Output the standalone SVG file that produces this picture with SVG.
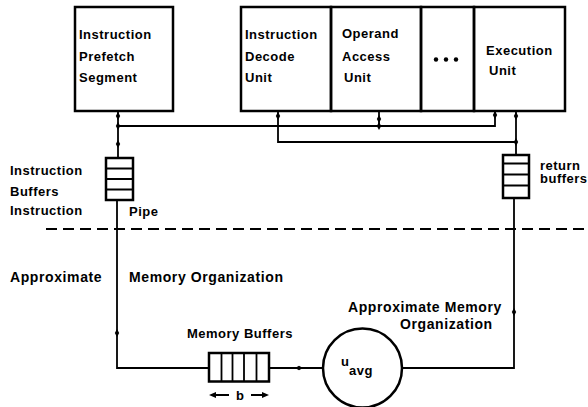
<svg xmlns="http://www.w3.org/2000/svg" width="588" height="407" viewBox="0 0 588 407">
<defs>
<style>
.box{fill:none;stroke:#000;stroke-width:2.5}
.ln{fill:none;stroke:#000;stroke-width:1.8}
.t{font-family:"Liberation Sans",Arial,sans-serif;font-weight:bold;font-size:13px;letter-spacing:0.5px;fill:#000}
.tl{font-family:"Liberation Sans",Arial,sans-serif;font-weight:bold;font-size:14px;letter-spacing:0.6px;fill:#000}
</style>
<path id="dv" d="M0,-4 L2.2,0 L0,4 L-2.2,0Z" fill="#000"/>
<path id="dh" d="M-4,0 L0,-2.2 L4,0 L0,2.2Z" fill="#000"/>
</defs>
<rect width="588" height="407" fill="#fff"/>

<g id="prefetch">
<rect class="box" x="75" y="7" width="98" height="104"/>
<text class="t" x="79" y="39">Instruction</text>
<text class="t" x="79" y="61">Prefetch</text>
<text class="t" x="79" y="82">Segment</text>
</g>

<g id="decode">
<rect class="box" x="241" y="7" width="90" height="104"/>
<text class="t" x="245" y="39">Instruction</text>
<text class="t" x="245" y="61">Decode</text>
<text class="t" x="245" y="82">Unit</text>
</g>

<g id="operand">
<rect class="box" x="331" y="7" width="90" height="104"/>
<text class="t" x="342" y="38" letter-spacing="0.8">Operand</text>
<text class="t" x="342" y="61" letter-spacing="0.8">Access</text>
<text class="t" x="344" y="82">Unit</text>
</g>

<g id="dots">
<rect class="box" x="421" y="7" width="53" height="104"/>
<circle cx="436" cy="59.5" r="2.2"/>
<circle cx="446" cy="59.5" r="2.2"/>
<circle cx="456" cy="59.5" r="2.2"/>
</g>

<g id="execution">
<rect class="box" x="474" y="7" width="91" height="104"/>
<text class="t" x="486" y="55">Execution</text>
<text class="t" x="489" y="75">Unit</text>
</g>

<g id="instruction-buffers">
<rect class="box" x="106" y="158" width="27" height="42" stroke-width="2"/>
<path class="ln" d="M106,168.5 H133 M106,179 H133 M106,189.5 H133"/>
<text class="t" x="10" y="175">Instruction</text>
<text class="t" x="10" y="196">Buffers</text>
<text class="t" x="10" y="215">Instruction</text>
<text class="t" x="129" y="216">Pipe</text>
</g>

<g id="return-buffers">
<rect class="box" x="503" y="155" width="26" height="43" stroke-width="2"/>
<path class="ln" d="M503,163.5 H529 M503,174.5 H529 M503,185.5 H529"/>
<text class="t" x="540" y="169.5" font-size="12">return</text>
<text class="t" x="540" y="183" font-size="12">buffers</text>
</g>

<g id="memory-buffers">
<rect class="box" x="209" y="353" width="60" height="28.5" stroke-width="2"/>
<path class="ln" d="M221.5,353 V381.5 M232.5,353 V381.5 M244,353 V381.5 M256.5,353 V381.5"/>
<text class="t" x="187" y="338">Memory Buffers</text>
<path class="ln" d="M214,395 H229 M251,395 H264"/>
<path d="M209,395 L216,392 L216,398Z M269,395 L262,392 L262,398Z" fill="#000"/>
<text class="t" x="236" y="399.5">b</text>
</g>

<g id="uavg">
<circle class="box" cx="362.5" cy="368" r="39.5" stroke-width="2.2"/>
<text class="t" x="341" y="366" font-size="11">u</text>
<text class="t" x="349" y="375">avg</text>
</g>

<g id="labels">
<text class="tl" x="10" y="282">Approximate</text>
<text class="tl" x="129" y="282" letter-spacing="0.75">Memory Organization</text>
<text class="tl" x="348" y="312">Approximate Memory</text>
<text class="tl" x="400" y="329" letter-spacing="0.5">Organization</text>
</g>

<g id="divider">
<line x1="46" y1="229" x2="588" y2="229" stroke="#000" stroke-width="2" stroke-dasharray="11 6"/>
</g>

<g id="connectors">
<path class="ln" d="M118,111 V158"/>
<path class="ln" d="M118,126 H495 V111"/>
<path class="ln" d="M379,111 V126"/>
<path class="ln" d="M278,111 V142 H516"/>
<path class="ln" d="M516,111 V155"/>
<path class="ln" d="M117,200 V368 H209"/>
<path class="ln" d="M269,368 H323"/>
<path class="ln" d="M402,368 H514 V198"/>
<use href="#dv" x="118" y="116"/>
<use href="#dv" x="118" y="126"/>
<use href="#dv" x="118" y="144"/>
<use href="#dv" x="278" y="116"/>
<use href="#dv" x="379" y="119"/>
<use href="#dv" x="379" y="126"/>
<use href="#dv" x="495" y="115"/>
<use href="#dv" x="516" y="116"/>
<use href="#dv" x="516" y="142"/>
<use href="#dv" x="117" y="333"/>
<use href="#dv" x="514" y="312"/>
<use href="#dh" x="299" y="368"/>
</g>
</svg>
